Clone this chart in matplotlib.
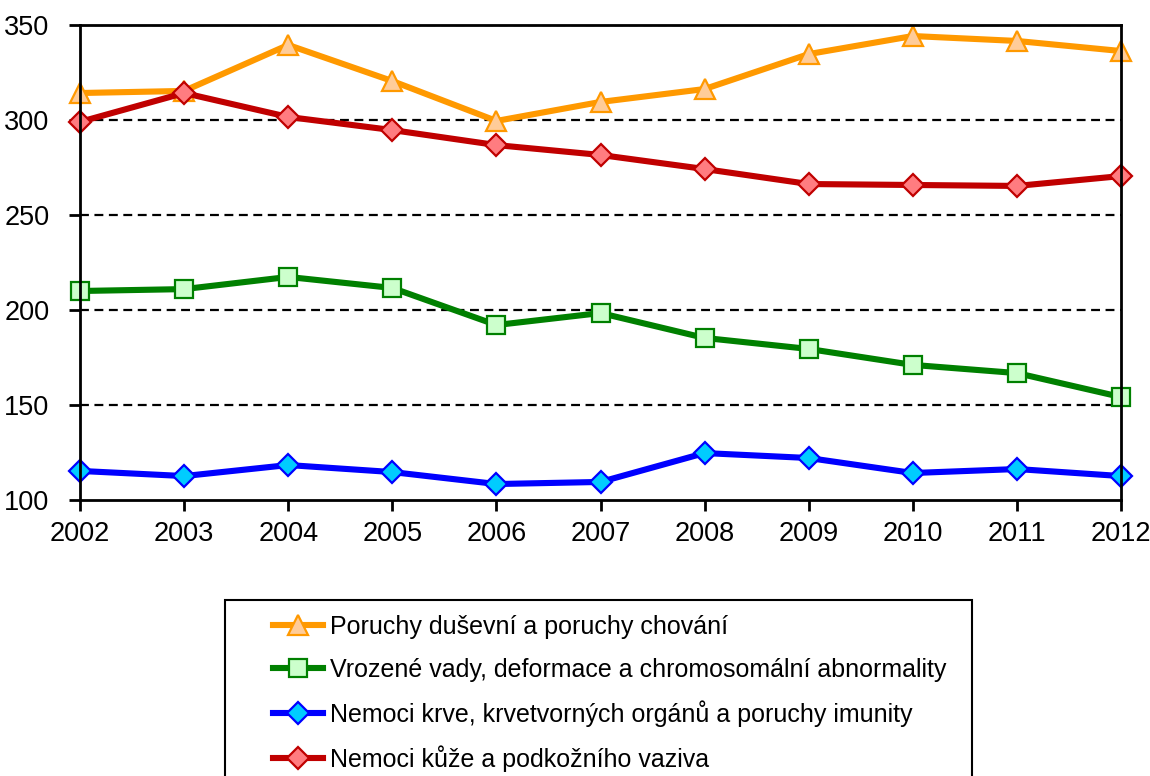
import matplotlib
matplotlib.use("Agg")
import matplotlib.pyplot as plt
from matplotlib.patches import Rectangle

plt.rcParams['font.family'] = ['Liberation Sans Narrow', 'Liberation Sans', 'DejaVu Sans']

years = [2002, 2003, 2004, 2005, 2006, 2007, 2008, 2009, 2010, 2011, 2012]

dusevni = [314.2, 315.3, 339.5, 320.5, 299.5, 309.5, 316.3, 334.7, 344.2, 341.6, 336.3]
vrozene = [210.0, 211.0, 217.4, 211.6, 192.1, 198.4, 185.3, 179.5, 171.1, 166.8, 154.2]
krev = [115.3, 112.6, 118.4, 114.7, 108.4, 109.5, 124.7, 122.1, 114.2, 116.3, 112.6]
kuze = [299.0, 314.2, 301.6, 294.7, 286.8, 281.6, 274.2, 266.3, 265.8, 265.3, 270.5]

names = ["Poruchy duševní a poruchy chování",
         "Vrozené vady, deformace a chromosomální abnormality",
         "Nemoci krve, krvetvorných orgánů a poruchy imunity",
         "Nemoci kůže a podkožního vaziva"]

W, H = 1150, 776
fig = plt.figure(figsize=(W / 100, H / 100), dpi=100)
ax = fig.add_axes([80 / W, 1 - 500 / H, (1121 - 80) / W, 475 / H])

# dashed grid drawn by hand so it sits under the lines
for v in [150, 200, 250, 300, 350]:
    ax.axhline(v, color='black', linestyle=(0, (4, 2.5)), linewidth=1.6, zorder=1)

style = dict(linewidth=4.4, markeredgewidth=1.6, clip_on=False, zorder=3)
l1, = ax.plot(years, dusevni, color='#FF9900', marker='^', markersize=15,
              markerfacecolor='#FFCC99', markeredgecolor='#FF9900', **style)
l2, = ax.plot(years, vrozene, color='#008000', marker='s', markersize=13,
              markerfacecolor='#CCFFCC', markeredgecolor='#008000', **style)
l3, = ax.plot(years, krev, color='#0000FF', marker='D', markersize=11,
              markerfacecolor='#00CCFF', markeredgecolor='#0000FF', **style)
l4, = ax.plot(years, kuze, color='#C00000', marker='D', markersize=11,
              markerfacecolor='#FF7C80', markeredgecolor='#C00000', **style)

ax.set_xlim(2002, 2012)
ax.set_ylim(100, 350)
ax.set_xticks(years)
ax.set_yticks([100, 150, 200, 250, 300, 350])
ax.tick_params(axis='both', direction='out', length=8, width=2, labelsize=19.5, colors='black')
ax.tick_params(axis='y', pad=14)
ax.tick_params(axis='x', pad=7)
for s in ax.spines.values():
    s.set_linewidth(2)
    s.set_color('black')
    s.set_zorder(5)

# legend frame runs off the bottom edge like in the original
frame = Rectangle((225 / W, 1 - 800 / H), (972 - 225) / W, 200 / H,
                  transform=fig.transFigure, facecolor='white', edgecolor='black',
                  linewidth=1.5, zorder=0)
fig.patches.append(frame)

leg = fig.legend([l1, l2, l3, l4], names, loc='upper left',
                 bbox_to_anchor=(273 / W, 1 - 615 / H), frameon=False, fontsize=18,
                 handlelength=2.0, handletextpad=0.3, labelspacing=0.74,
                 borderpad=0, borderaxespad=0)

fig.savefig("out.png", dpi=100)
